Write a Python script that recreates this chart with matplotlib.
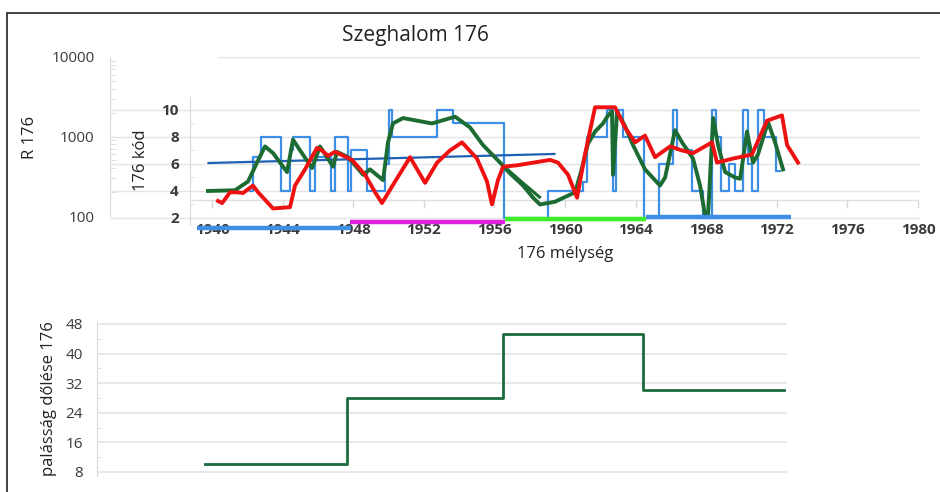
import matplotlib.pyplot as plt
from matplotlib.patches import Rectangle

plt.rcParams['font.family'] = ['Open Sans', 'DejaVu Sans']

# ---- upper chart data (years / values) ----
kod_years = [1942.15, 1942.3, 1942.8, 1943.9, 1944.4, 1944.6, 1945.55, 1945.85, 1946.75, 1946.95,
             1947.7, 1947.9, 1948.8, 1949.8, 1950.0, 1950.2, 1952.75, 1953.65, 1956.55, 1959.05,
             1961.0, 1961.25, 1962.4, 1962.7, 1962.9, 1963.3, 1964.45, 1965.35, 1966.1, 1966.35,
             1967.2, 1967.8, 1968.3, 1968.55, 1968.85, 1969.3, 1969.65, 1970.1, 1970.35, 1970.6,
             1970.95, 1971.25, 1971.95, 1972.2]
kod_vals = [4, 6.5, 8, 4, 7, 8, 4, 6.5, 4, 8,
            4, 7, 4, 6, 10, 8, 10, 9, 2, 4,
            4.7, 8, 10, 4, 10, 8, 2, 6, 10, 7,
            4, 2, 10, 8, 4, 6, 4, 10, 6, 4,
            10, 8, 5.5, 5.5]

green_years = [1939.77, 1941.3, 1942.04, 1942.55, 1943.0, 1943.46, 1944.25, 1944.59, 1944.99, 1945.67,
               1946.12, 1946.86, 1947.08, 1947.71, 1948.56, 1948.95, 1949.69, 1949.97, 1950.25, 1950.82,
               1952.46, 1953.77, 1954.62, 1955.35, 1956.32, 1956.88, 1957.62, 1958.19, 1958.58, 1959.43,
               1960.0, 1960.57, 1960.96, 1961.3, 1961.7, 1962.15, 1962.44, 1962.66, 1962.72, 1962.95,
               1963.4, 1963.85, 1964.53, 1965.38, 1965.67, 1966.23, 1966.63, 1967.25, 1967.65, 1967.93,
               1968.1, 1968.39, 1968.67, 1969.07, 1969.63, 1969.92, 1970.31, 1970.65, 1970.93, 1971.5,
               1971.9, 1972.35]
green_vals = [4.0, 4.05, 4.7, 6.1, 7.3, 6.8, 5.4, 7.8, 7.0, 5.7,
              7.3, 5.8, 6.9, 6.5, 5.2, 5.6, 4.8, 7.6, 9.0, 9.4,
              9.0, 9.5, 8.7, 7.4, 6.1, 5.3, 4.4, 3.5, 3.0, 3.2,
              3.55, 3.9, 5.7, 7.5, 8.4, 9.0, 9.6, 9.9, 5.2, 9.9,
              8.8, 7.4, 5.6, 4.4, 5.0, 8.5, 7.6, 6.4, 4.4, 2.2,
              2.1, 9.4, 7.4, 5.4, 5.0, 4.9, 8.4, 6.1, 6.7, 9.1,
              7.6, 5.6]
green2_years = [1956.4, 1956.9, 1957.6, 1958.55]
green2_vals = [6.0, 5.4, 4.6, 3.55]

red_years = [1940.34, 1940.57, 1941.02, 1941.42, 1941.76, 1942.32, 1942.61, 1943.46, 1944.42, 1944.7,
             1945.27, 1945.95, 1946.23, 1946.57, 1946.97, 1947.93, 1948.67, 1949.24, 1949.63, 1950.37,
             1951.22, 1952.07, 1952.75, 1953.48, 1954.16, 1955.01, 1955.58, 1955.86, 1956.2, 1956.49,
             1957.28, 1959.15, 1959.6, 1960.17, 1960.68, 1961.13, 1961.7, 1962.83, 1963.4, 1963.97,
             1964.53, 1965.1, 1965.95, 1966.63, 1967.25, 1968.33, 1968.61, 1969.52, 1970.59, 1971.44,
             1972.29, 1972.58, 1973.2]
red_vals = [3.26, 3.1, 3.9, 3.9, 3.85, 4.4, 3.9, 2.7, 2.8, 4.4,
            5.6, 7.2, 7.0, 6.6, 6.9, 6.3, 5.2, 3.9, 3.1, 4.7,
            6.5, 4.6, 6.1, 7.0, 7.6, 6.4, 4.7, 3.0, 4.8, 5.8,
            5.9, 6.3, 6.1, 5.2, 3.5, 6.7, 10.2, 10.2, 8.7, 7.6,
            8.1, 6.5, 7.3, 7.0, 6.8, 7.6, 6.1, 6.4, 6.7, 9.2,
            9.6, 7.4, 6.1]

trend_years = [1939.8, 1959.4]
trend_vals = [6.07, 6.74]

# coloured intervals under the axis: (start, end, level, colour)
bands = [(1939.15, 1947.9, 1.26, '#3d8fe6'),
         (1947.8, 1956.6, 1.70, '#e020e0'),
         (1956.6, 1964.6, 1.93, '#3cec28'),
         (1964.6, 1972.8, 2.10, '#3d8fe6')]

year_ticks = list(range(1940, 1981, 4))
kod_ticks = [2, 4, 6, 8, 10]
r_ticks = [100, 1000, 10000]

# ---- lower chart data ----
dip_years = [1939.6, 1947.65, 1956.49, 1964.42, 1972.41]
dip_vals = [10.2, 28.0, 45.3, 30.2, 30.2]
dip_ticks = [8, 16, 24, 32, 40, 48]

fig = plt.figure(figsize=(9.4, 4.92), dpi=100)
W, H = 940, 492

def rect(x0, y0, x1, y1):
    return [x0 / W, 1 - y1 / H, (x1 - x0) / W, (y1 - y0) / H]

grey = '#d9d9d9'
txt = '#3a3a3a'

# outer log axis (R 176)
ax0 = fig.add_axes(rect(110, 57, 920, 216))
ax0.set_yscale('log')
ax0.set_ylim(100, 10000)
ax0.set_xlim(0, 1)
ax0.set_yticks(r_ticks)
ax0.set_yticklabels([str(v) for v in r_ticks])
ax0.set_xticks([])
for s in ['top', 'right', 'bottom']:
    ax0.spines[s].set_visible(False)
ax0.spines['left'].set_color(grey)
ax0.tick_params(axis='y', which='major', length=0, pad=11, labelsize=11, labelcolor=txt)
ax0.tick_params(axis='y', which='minor', direction='in', length=4, color=grey)
ax0.axhline(10000, xmin=(218 - 110) / 810, xmax=1, color='#e4e4e4', lw=1)
ax0.patch.set_alpha(0)
fig.text(30 / W, 1 - 137 / H, 'R 176', rotation=90, ha='center', va='center', fontsize=12, color='#222222')

# inner linear axis (176 kód)
ax = fig.add_axes(rect(110, 97, 920, 222))
ax.set_xlim(1934.22, 1980.11)
ax.set_ylim(1.70, 10.96)
ax.patch.set_alpha(0)
ax.set_yticks(kod_ticks)
ax.set_yticks([3, 5, 7, 9], minor=True)
ax.set_xticks(year_ticks)
ax.set_xticklabels([str(y) for y in year_ticks])
ax.yaxis.grid(True, which='major', color='#e4e4e4', lw=1)
ax.set_axisbelow(True)
for s in ['top', 'right', 'bottom']:
    ax.spines[s].set_visible(False)
ax.spines['left'].set_position(('data', 1938.75))
ax.spines['left'].set_color(grey)
ax.spines['left'].set_bounds(1.45, 10.96)
ax.tick_params(axis='y', which='major', length=0, pad=8, labelsize=11, labelcolor=txt)
ax.tick_params(axis='y', which='minor', direction='in', length=3, color=grey)
ax.tick_params(axis='x', length=0, pad=1, labelsize=11, labelcolor=txt)
for lab in ax.get_xticklabels() + ax.get_yticklabels():
    lab.set_fontweight('bold')
ax.text(1936.0, 6.3, '176 kód', rotation=90, ha='center', va='center', fontsize=12, color='#222222')

# faint secondary axis line with ticks
ax.hlines(3.33, 1938.75, 1980, color='#e0e0e0', lw=1, zorder=1)
ax.plot(year_ticks, [3.33] * len(year_ticks), ls='none', marker=3, ms=6, mec='#d8d8d8', zorder=1)

ax.step(kod_years, kod_vals, where='post', color='#3d8fe6', lw=1.6, zorder=2)
ax.plot(trend_years, trend_vals, color='#1f5fb5', lw=1.6, zorder=3)
ax.plot(green_years, green_vals, color='#1b6b32', lw=2.8, zorder=4, solid_joinstyle='round')
ax.plot(green2_years, green2_vals, color='#1b6b32', lw=2.3, zorder=4)
ax.plot(red_years, red_vals, color='#ee1111', lw=2.8, zorder=5, solid_joinstyle='round')
for x0, x1, lev, c in bands:
    ax.plot([x0, x1], [lev, lev], color=c, lw=3.2, solid_capstyle='butt', clip_on=False, zorder=6)

fig.text(565 / W, 1 - 254 / H, '176 mélység', ha='center', va='center', fontsize=12, color='#222222')
fig.text(415 / W, 1 - 35 / H, 'Szeghalom 176', ha='center', va='center', fontsize=15, color='#222222')

# lower chart
ax2 = fig.add_axes(rect(97, 322.15, 787, 475.7))
ax2.set_xlim(1933.48, 1972.58)
ax2.set_ylim(7.0, 48.5)
ax2.set_yticks(dip_ticks)
ax2.set_yticks([12, 20, 28, 36, 44], minor=True)
ax2.set_xticks([])
ax2.yaxis.grid(True, which='major', color='#e4e4e4', lw=1.2)
ax2.set_axisbelow(True)
for s in ['top', 'right', 'bottom']:
    ax2.spines[s].set_visible(False)
ax2.spines['left'].set_color(grey)
ax2.tick_params(axis='y', which='major', length=0, pad=10, labelsize=11, labelcolor=txt)
ax2.tick_params(axis='y', which='minor', direction='in', length=3, color=grey)
ax2.step(dip_years, dip_vals, where='post', color='#1b6b3c', lw=2.0)
ax2.set_ylabel('palásság dőlése 176', fontsize=12, color='#222222', labelpad=6)

# outer frame
fig.patches.append(Rectangle((7 / W, -0.01), 1, 1 - 13 / H + 0.01, transform=fig.transFigure,
                             fill=False, ec='#333333', lw=1.3))

fig.savefig('out.png', dpi=100)
